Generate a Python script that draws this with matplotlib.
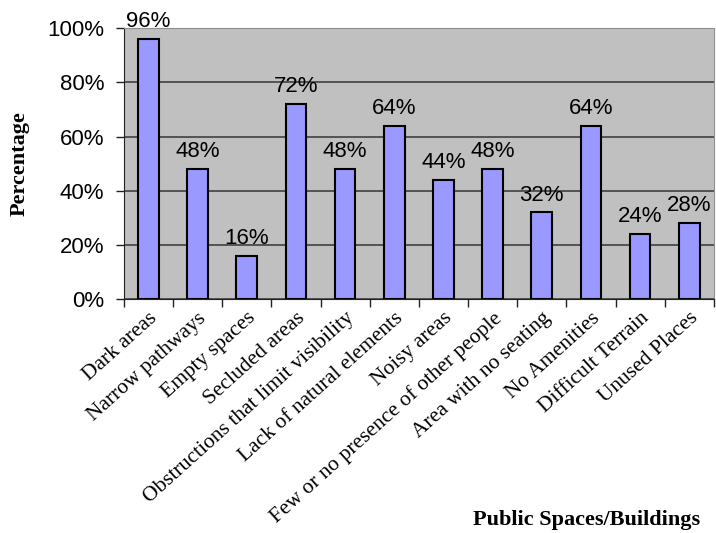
import matplotlib
matplotlib.use("Agg")
import matplotlib.pyplot as plt
import numpy as np

categories = ["Dark areas", "Narrow pathways", "Empty spaces", "Secluded areas",
              "Obstructions that limit visibility", "Lack of natural elements",
              "Noisy areas", "Few or no presence of other people",
              "Area with no seating", "No Amenities", "Difficult Terrain", "Unused Places"]
values = [96, 48, 16, 72, 48, 64, 44, 48, 32, 64, 24, 28]
yticks = [0, 20, 40, 60, 80, 100]

fig = plt.figure(figsize=(7.16, 5.33), dpi=100)
ax = fig.add_axes([0.173, 0.439, 0.824, 0.508])
ax.set_facecolor("#C0C0C0")
x = np.arange(len(categories))
ax.bar(x, values, width=0.42, color="#9999FF", edgecolor="black", linewidth=1.5, zorder=3)
for xi, v in zip(x, values):
    ax.text(xi, v + 2.5, f"{v}%", ha="center", va="bottom", fontsize=16,
            family="Liberation Sans", clip_on=False, zorder=4)

ax.set_xlim(-0.5, len(categories) - 0.5)
ax.set_ylim(0, 100)
ax.set_yticks(yticks)
ax.set_yticklabels([f"{t}%" for t in yticks], family="Liberation Sans", fontsize=16)
ax.yaxis.grid(True, color="#404040", linewidth=1.2, zorder=0)
ax.set_axisbelow(True)
ax.set_xticks(x)
ax.set_xticklabels(categories, rotation=42, ha="right", rotation_mode="anchor",
                   family="Liberation Serif", fontsize=15.5)
ax.tick_params(axis="x", length=0, pad=7)
ax.set_xticks(np.arange(-0.5, len(categories)), minor=True)
ax.tick_params(axis="x", which="minor", length=6, width=1, color="#222222")
ax.tick_params(axis="y", length=6, width=1, color="#222222", pad=8)
for s in ["top", "right"]:
    ax.spines[s].set_color("#909090")
for s in ["left", "bottom"]:
    ax.spines[s].set_color("#222222")

fig.text(0.028, 0.694, "Percentage", rotation=90, ha="center", va="center",
         family="Liberation Serif", fontweight="bold", fontsize=16)
fig.text(0.978, 0.024, "Public Spaces/Buildings", ha="right", va="center",
         family="Liberation Serif", fontweight="bold", fontsize=16)

fig.savefig("out.png", dpi=100)
